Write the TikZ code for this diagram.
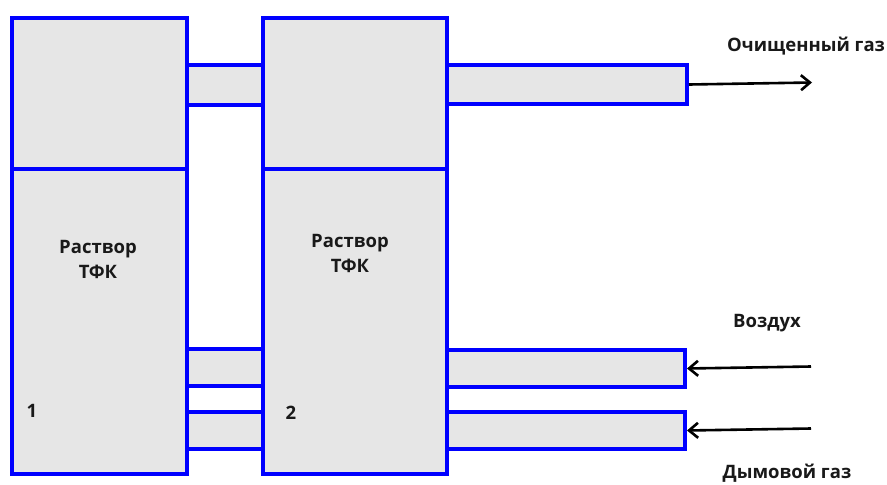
\documentclass[tikz,border=0pt]{standalone}
\usepackage{fontspec}
\setmainfont{Open Sans}
\usetikzlibrary{arrows.meta}
\definecolor{boxgray}{HTML}{E6E6E6}
\definecolor{boxblue}{HTML}{0000FF}
\tikzset{
  unit/.style={draw=boxblue, fill=boxgray, line width=4pt, inner sep=0pt, anchor=north west},
  lbl/.style={font=\fontsize{18.5}{25}\selectfont\bfseries, inner sep=0pt, align=center, text=black!90},
  flow/.style={line width=2.6pt, -{Straight Barb[length=9pt,width=15pt,line width=2.6pt]}},
}
\begin{document}
\begin{tikzpicture}[x=1pt,y=-1pt]
\useasboundingbox[fill=white] (0,0) rectangle (887,485);
% pipes
\node[unit, minimum width=76pt, minimum height=40pt] (p12a) at (185,63) {};
\node[unit, minimum width=76pt, minimum height=37pt] (p12b) at (185,347) {};
\node[unit, minimum width=76pt, minimum height=37pt] (p12c) at (185,410) {};
\node[unit, minimum width=240pt, minimum height=39pt] (pout) at (445,63) {};
\node[unit, minimum width=238pt, minimum height=37pt] (pair) at (445,348) {};
\node[unit, minimum width=238pt, minimum height=37pt] (pgas) at (445,410) {};
% vessels
\node[unit, minimum width=175pt, minimum height=151.5pt] (v1t) at (10,15.5) {};
\node[unit, minimum width=175pt, minimum height=305pt] (v1b) at (10,167) {};
\node[unit, minimum width=184pt, minimum height=151.5pt] (v2t) at (261,15.5) {};
\node[unit, minimum width=184pt, minimum height=305pt] (v2b) at (261,167) {};
% labels
\node[lbl] (t1) at (98,259) {Раствор\\ТФК};
\node[lbl] (t2) at (350,253) {Раствор\\ТФК};
\node[lbl] (n1) at (32,411) {1};
\node[lbl] (n2) at (291,413) {2};
\node[lbl] (lout) at (806,46) {Очищенный газ};
\node[lbl] (lair) at (767,323) {Воздух};
\node[lbl] (lgas) at (787,473) {Дымовой газ};
% flows
\coordinate (eout) at (812,82.5);
\coordinate (sair) at (811,366.5);
\coordinate (sgas) at (811,428.5);
\draw[flow] (pout.east) -- (eout);
\draw[flow] (sair) -- (pair.east);
\draw[flow] (sgas) -- (pgas.east);
\end{tikzpicture}
\end{document}
